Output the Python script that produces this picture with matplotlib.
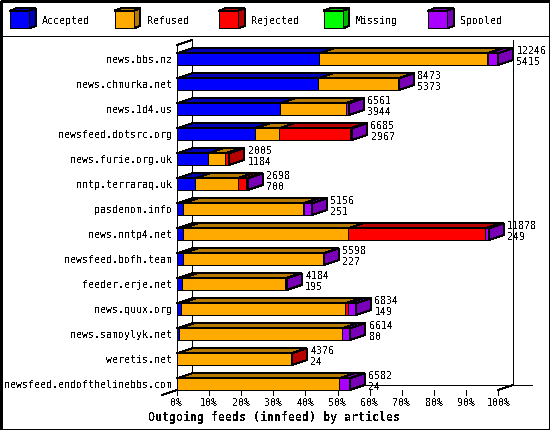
import matplotlib
matplotlib.use("Agg")
import matplotlib.pyplot as plt
from matplotlib.patches import Polygon, Rectangle
from matplotlib.lines import Line2D

plt.rcParams["text.antialiased"] = False
plt.rcParams["patch.antialiased"] = False
plt.rcParams["lines.antialiased"] = False

# ---------------- data ----------------
feeds = ["news.bbs.nz", "news.chmurka.net", "news.1d4.us", "newsfeed.dotsrc.org",
         "news.furie.org.uk", "nntp.terraraq.uk", "pasdenom.info", "news.nntp4.net",
         "newsfeed.bofh.team", "feeder.erje.net", "news.quux.org", "news.samoylyk.net",
         "weretis.net", "newsfeed.endofthelinebbs.com"]
offered = [12246, 8473, 6561, 6685, 2005, 2698, 5156, 11878, 5598, 4184, 6834, 6614, 4376, 6582]
accepted = [5415, 5373, 3944, 2967, 1184, 700, 251, 249, 227, 195, 149, 80, 24, 24]
refused = [6390, 3070, 2490, 941, 656, 1620, 4547, 6287, 5350, 3930, 6260, 6228, 4330, 6169]
rejected = [60, 0, 0, 2692, 165, 330, 60, 5205, 0, 0, 110, 0, 22, 0]
missing = [0, 0, 0, 0, 0, 0, 0, 0, 0, 0, 0, 0, 0, 0]
spooled = [381, 30, 127, 85, 0, 48, 298, 137, 21, 59, 315, 306, 0, 389]
series_names = ["Accepted", "Refused", "Rejected", "Missing", "Spooled"]
series_colors = ["#0000ff", "#ffaa00", "#ff0000", "#00ff00", "#aa00ff"]
xticks = [0, 10, 20, 30, 40, 50, 60, 70, 80, 90, 100]
xtick_labels = ["%d%%" % t for t in xticks]
title = "Outgoing feeds (innfeed) by articles"

series_values = [accepted, refused, rejected, missing, spooled]


def darker(c, f=0.72):
    c = c.lstrip("#")
    r, g, b = (int(c[k:k + 2], 16) for k in (0, 2, 4))
    return "#%02x%02x%02x" % (int(r * f), int(g * f), int(b * f))


dark_colors = [darker(c) for c in series_colors]

W, H = 550, 430
fig = plt.figure(figsize=(W / 100, H / 100), dpi=100)
fig.patch.set_facecolor("white")
PT = 0.72  # points per pixel
mono = "DejaVu Sans Mono"
fs = 7.2

# overlay axes in pixel coordinates for frame / legend / title
ov = fig.add_axes([0, 0, 1, 1])
ov.set_xlim(0, W)
ov.set_ylim(H, 0)
ov.axis("off")
ov.add_patch(Rectangle((0.5, 0.5), W - 1, H - 1, fill=False, ec="black", lw=PT * 1.3))
ov.add_line(Line2D([0, W], [35.5, 35.5], color="black", lw=PT))

# legend (3D boxes)
for k, (name, col, dcol) in enumerate(zip(series_names, series_colors, dark_colors)):
    x0 = 10 + k * 104.5
    y0, y1 = 10.7, 28.3
    bw, ddx, ddy = 19.3, 6.4, 2.4
    ov.add_patch(Polygon([(x0, y0), (x0 + ddx, y0 - ddy), (x0 + bw + ddx, y0 - ddy), (x0 + bw, y0)],
                         closed=True, fc=dcol, ec="black", lw=PT))
    ov.add_patch(Polygon([(x0 + bw, y0), (x0 + bw + ddx, y0 - ddy), (x0 + bw + ddx, y1 - ddy), (x0 + bw, y1)],
                         closed=True, fc=dcol, ec="black", lw=PT))
    ov.add_patch(Rectangle((x0, y0), bw, y1 - y0, fc=col, ec="black", lw=PT))
    ov.text(x0 + 32.3, 24, name, family=mono, fontsize=fs, ha="left", va="baseline")

ov.text(274.5, 421, title, family=mono, fontsize=8.4, fontweight="bold", ha="center", va="baseline")

# main axes: x in percent of the largest feed, y in category index
left_px, right_px = 176.7, 498.3
top_px, bot_px = 45.0, 390.0
c0_px, step_px = 59.15, 25.0
ax = fig.add_axes([left_px / W, 1 - bot_px / H, (right_px - left_px) / W, (bot_px - top_px) / H])
ax.set_xlim(0, 100)
ytop = -(c0_px - top_px) / step_px
ybot = (bot_px - c0_px) / step_px
ax.set_ylim(ybot, ytop)
ax.axis("off")
ax.patch.set_alpha(0)

ppx = (right_px - left_px) / 100.0  # px per percent
dx = 15.0 / ppx
dy = 5.0 / step_px
half = 5.85 / step_px

kw = dict(color="black", lw=PT, clip_on=False)
# back wall and floor
ax.add_line(Line2D([dx, dx], [ytop - dy, ybot - dy], zorder=1, **kw))
ax.add_line(Line2D([100 + dx, 100 + dx], [ytop - dy, ybot - dy], zorder=1, **kw))
ax.add_line(Line2D([dx, 100 + dx + 18.7 / ppx], [ybot - dy, ybot - dy], zorder=1, **kw))
ax.add_line(Line2D([0, dx], [ytop, ytop - dy], zorder=1, **kw))
ax.add_line(Line2D([100, 100 + dx], [ybot, ybot - dy], zorder=1, **kw))
ax.add_line(Line2D([-dx, 0], [ybot + dy, ybot], zorder=1, **kw))
# front axis
ax.add_line(Line2D([0, 0], [ytop, ybot], zorder=5, **kw))
for t, lab in zip(xticks, xtick_labels):
    ax.add_line(Line2D([t, t], [ybot, ybot + 5.0 / step_px], zorder=5, **kw))
    ax.annotate(lab, xy=(t, ybot), xytext=(0, -16 * PT), textcoords="offset points",
                family=mono, fontsize=fs, ha="center", va="baseline", annotation_clip=False)

vmax = max(offered)
for i, feed in enumerate(feeds):
    yc = i
    yt = yc - half
    yb = yc + half
    cum = 0.0
    last = None
    for j in range(len(series_values)):
        v = series_values[j][i]
        if v <= 0:
            continue
        w = v / vmax * 100.0
        x0, x1 = cum, cum + w
        ax.add_patch(Polygon([(x0, yt), (x0 + dx, yt - dy), (x1 + dx, yt - dy), (x1, yt)],
                             closed=True, fc=dark_colors[j], ec="black", lw=PT, zorder=3, clip_on=False))
        ax.add_patch(Rectangle((x0, yt), w, yb - yt, fc=series_colors[j], ec="black", lw=PT,
                               zorder=4, clip_on=False))
        cum = x1
        last = j
    xe = cum
    ax.add_patch(Polygon([(xe, yt), (xe + dx, yt - dy), (xe + dx, yb - dy), (xe, yb)],
                         closed=True, fc=dark_colors[last], ec="black", lw=PT, zorder=4, clip_on=False))
    # category label
    ax.annotate(feed, xy=(0, yc), xytext=(-4.4 * PT, -4.0 * PT), textcoords="offset points",
                family=mono, fontsize=fs, ha="right", va="baseline", annotation_clip=False)
    # value labels
    ax.annotate(str(offered[i]), xy=(xe + dx, yc), xytext=(3.5 * PT, 5.5 * PT), textcoords="offset points",
                family=mono, fontsize=fs, ha="left", va="baseline", annotation_clip=False, zorder=6)
    ax.annotate(str(accepted[i]), xy=(xe + dx, yc), xytext=(3.5 * PT, -6.1 * PT), textcoords="offset points",
                family=mono, fontsize=fs, ha="left", va="baseline", annotation_clip=False, zorder=6)

fig.savefig("out.png", dpi=100, facecolor="white")
